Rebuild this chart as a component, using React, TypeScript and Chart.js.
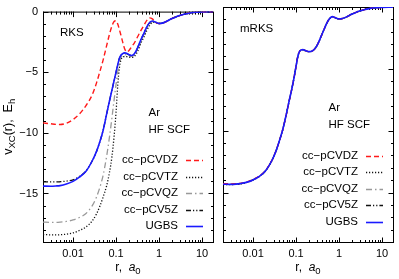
import React, { useEffect, useRef } from "react";
import { Chart, registerables } from "chart.js";

Chart.register(...registerables);

const FONT = "'Liberation Sans', Arial, Helvetica, sans-serif";
const W = 399;
const H = 279;

// ---------------- data ----------------
const rGrid = [0.002, 0.003, 0.004, 0.005, 0.007, 0.01, 0.014, 0.02, 0.028, 0.035, 0.042, 0.05, 0.06, 0.07, 0.08, 0.09, 0.1, 0.11, 0.12, 0.13, 0.145, 0.16, 0.18, 0.2, 0.23, 0.27, 0.32, 0.38, 0.45, 0.52, 0.6, 0.7, 0.8, 0.9, 1.0, 1.2, 1.5, 2, 2.5, 3, 4, 5, 7, 10, 14, 18];

const xTickValues = [0.01, 0.1, 1, 10];
const yTickValues = [-15, -10, -5, 0];
const xRange = [0.002, 18];
const yRange = [-19, 0];

const basisLabels = ["cc\u2212pCVDZ", "cc\u2212pCVTZ", "cc\u2212pCVQZ", "cc\u2212pCV5Z", "UGBS"];
const panelLabels = ["RKS", "mRKS"];
const systemLines = ["Ar", "HF SCF"];

// RKS panel
const rksDZ = [-9.18, -9.25, -9.3, -9.31, -9.2, -8.9, -8.45, -7.75, -6.85, -5.9, -4.95, -4.0, -2.85, -1.9, -1.2, -0.82, -0.76, -1.05, -1.5, -1.95, -2.6, -3.1, -3.33, -3.2, -2.9, -2.55, -2.05, -1.55, -1.1, -0.72, -0.52, -0.6, -0.82, -0.95, -0.98, -0.95, -0.8, -0.57, -0.43, -0.33, -0.2, -0.13, -0.06, -0.03, -0.012, -0.005];
const rksTZ = [-18.38, -18.41, -18.42, -18.4, -18.35, -18.25, -18.05, -17.76, -17.25, -16.7, -16.05, -15.3, -14.4, -13.3, -12.0, -10.3, -8.3, -6.0, -4.6, -4.0, -3.75, -3.7, -3.72, -3.76, -3.78, -3.68, -3.25, -2.6, -2.05, -1.55, -1.15, -0.9, -0.87, -0.94, -0.98, -0.95, -0.8, -0.57, -0.43, -0.33, -0.2, -0.13, -0.06, -0.03, -0.012, -0.005];
const rksQZ = [-17.36, -17.38, -17.38, -17.36, -17.3, -17.18, -16.98, -16.65, -16.0, -15.3, -14.5, -13.5, -12.0, -10.4, -8.8, -7.3, -6.0, -4.9, -4.2, -3.8, -3.6, -3.55, -3.58, -3.65, -3.7, -3.55, -3.05, -2.4, -1.85, -1.35, -1.0, -0.82, -0.85, -0.94, -0.98, -0.95, -0.8, -0.57, -0.43, -0.33, -0.2, -0.13, -0.06, -0.03, -0.012, -0.005];
const rks5Z = [-14.04, -14.05, -14.05, -14.03, -13.98, -13.88, -13.6, -13.15, -12.3, -11.55, -10.74, -9.8, -8.5, -7.4, -6.5, -5.7, -5.0, -4.35, -3.85, -3.6, -3.46, -3.41, -3.46, -3.56, -3.63, -3.46, -2.96, -2.31, -1.76, -1.26, -0.93, -0.78, -0.84, -0.93, -0.98, -0.95, -0.8, -0.57, -0.43, -0.33, -0.2, -0.13, -0.06, -0.03, -0.012, -0.005];
const rksUGBS = [-14.39, -14.4, -14.38, -14.35, -14.22, -14.0, -13.65, -13.17, -12.3, -11.55, -10.74, -9.8, -8.5, -7.4, -6.5, -5.7, -5.0, -4.35, -3.85, -3.6, -3.45, -3.4, -3.45, -3.55, -3.62, -3.45, -2.95, -2.3, -1.75, -1.25, -0.92, -0.78, -0.84, -0.93, -0.98, -0.95, -0.8, -0.57, -0.43, -0.33, -0.2, -0.13, -0.06, -0.03, -0.012, -0.005];

// mRKS panel
const mrksDZ = [-14.28, -14.3, -14.29, -14.26, -14.16, -13.95, -13.68, -13.18, -12.33, -11.54, -10.7, -9.8, -8.62, -7.52, -6.6, -5.7, -4.8, -4.0, -3.6, -3.48, -3.45, -3.5, -3.57, -3.61, -3.58, -3.4, -3.0, -2.4, -1.8, -1.3, -0.95, -0.78, -0.85, -0.93, -0.97, -0.93, -0.8, -0.57, -0.43, -0.33, -0.2, -0.13, -0.06, -0.03, -0.012, -0.005];
const mrksTZ = [-14.35, -14.36, -14.33, -14.3, -14.19, -13.98, -13.7, -13.2, -12.35, -11.56, -10.71, -9.81, -8.61, -7.51, -6.6, -5.7, -4.8, -4.0, -3.6, -3.48, -3.45, -3.5, -3.57, -3.61, -3.58, -3.4, -3.0, -2.4, -1.8, -1.3, -0.95, -0.78, -0.85, -0.93, -0.97, -0.93, -0.8, -0.57, -0.43, -0.33, -0.2, -0.13, -0.06, -0.03, -0.012, -0.005];
const mrksQZ = [-14.34, -14.35, -14.33, -14.29, -14.18, -13.98, -13.7, -13.2, -12.35, -11.55, -10.7, -9.8, -8.6, -7.5, -6.6, -5.7, -4.8, -4.0, -3.6, -3.48, -3.45, -3.5, -3.57, -3.61, -3.58, -3.4, -3.0, -2.4, -1.8, -1.3, -0.95, -0.78, -0.85, -0.93, -0.97, -0.93, -0.8, -0.57, -0.43, -0.33, -0.2, -0.13, -0.06, -0.03, -0.012, -0.005];
const mrks5Z = [-14.33, -14.34, -14.32, -14.28, -14.18, -13.98, -13.7, -13.2, -12.35, -11.55, -10.7, -9.8, -8.6, -7.5, -6.6, -5.7, -4.8, -4.0, -3.6, -3.48, -3.45, -3.5, -3.57, -3.61, -3.58, -3.4, -3.0, -2.4, -1.8, -1.3, -0.95, -0.78, -0.85, -0.93, -0.97, -0.93, -0.8, -0.57, -0.43, -0.33, -0.2, -0.13, -0.06, -0.03, -0.012, -0.005];
const mrksUGBS = [-14.33, -14.34, -14.32, -14.28, -14.18, -13.98, -13.7, -13.2, -12.35, -11.55, -10.7, -9.8, -8.6, -7.5, -6.6, -5.7, -4.8, -4.0, -3.6, -3.48, -3.45, -3.5, -3.57, -3.61, -3.58, -3.4, -3.0, -2.4, -1.8, -1.3, -0.95, -0.78, -0.85, -0.93, -0.97, -0.93, -0.8, -0.57, -0.43, -0.33, -0.2, -0.13, -0.06, -0.03, -0.012, -0.005];

// ---------------- styles ----------------
const lineStyles = [
  { color: "#ff1a1a", dash: [5, 3], width: 1.4 },
  { color: "#111111", dash: [1.2, 1.8], width: 1.3 },
  { color: "#999999", dash: [6, 3, 1.5, 3], width: 1.3 },
  { color: "#111111", dash: [5, 2, 1.2, 2, 1.2, 2], width: 1.3 },
  { color: "#1a1aff", dash: [] as number[], width: 1.6 },
];

type Seg = { t: string; size: number; italic?: boolean; dy?: number };

function drawRich(ctx: CanvasRenderingContext2D, segs: Seg[], x: number, y: number) {
  let total = 0;
  const widths = segs.map((s) => {
    ctx.font = `${s.italic ? "italic " : ""}${s.size}px ${FONT}`;
    const w = ctx.measureText(s.t).width;
    total += w;
    return w;
  });
  let cx = x - total / 2;
  ctx.textAlign = "left";
  ctx.textBaseline = "middle";
  segs.forEach((s, i) => {
    ctx.font = `${s.italic ? "italic " : ""}${s.size}px ${FONT}`;
    ctx.fillText(s.t, cx, y + (s.dy || 0));
    cx += widths[i];
  });
}

function makePanelPlugin(panelLabel: string, showYTitle: boolean) {
  return {
    id: "panelDeco",
    beforeDatasetsDraw(chart: any) {
      const { ctx, chartArea } = chart;
      const { left, right, top, bottom } = chartArea;
      const xs = chart.scales.x;
      const ys = chart.scales.y;
      ctx.save();
      ctx.strokeStyle = "#000";
      ctx.lineWidth = 1;
      ctx.setLineDash([]);
      ctx.strokeRect(left + 0.5, top + 0.5, right - left, bottom - top);
      ctx.beginPath();
      // y ticks, every unit, major at multiples of 5
      for (let v = Math.ceil(yRange[0]); v <= yRange[1]; v++) {
        const major = v % 5 === 0;
        const len = major ? 5.5 : 3;
        const py = Math.round(ys.getPixelForValue(v)) + 0.5;
        ctx.moveTo(left, py);
        ctx.lineTo(left + len, py);
        ctx.moveTo(right + 1, py);
        ctx.lineTo(right + 1 - len, py);
      }
      // x ticks, log decades with minor 2..9
      for (let k = -3; k <= 1; k++) {
        for (let m = 1; m <= 9; m++) {
          const v = m * Math.pow(10, k);
          if (v < xRange[0] * 0.999 || v > xRange[1] * 1.001) continue;
          const len = m === 1 ? 5.5 : 3;
          const px = Math.round(xs.getPixelForValue(v)) + 0.5;
          ctx.moveTo(px, bottom + 1);
          ctx.lineTo(px, bottom + 1 - len);
          ctx.moveTo(px, top);
          ctx.lineTo(px, top + len);
        }
      }
      ctx.stroke();
      ctx.restore();
    },
    afterDraw(chart: any) {
      const { ctx, chartArea } = chart;
      const { left, right, top, bottom } = chartArea;
      ctx.save();
      ctx.fillStyle = "#000";
      ctx.textBaseline = "middle";
      ctx.textAlign = "left";
      ctx.font = `11.5px ${FONT}`;
      ctx.fillText(panelLabel, left + 17, top + 21.5);
      ctx.fillText(systemLines[0], left + 105.5, top + 101.3);
      ctx.fillText(systemLines[1], left + 105.5, top + 118);

      // legend (built from the datasets)
      chart.data.datasets.forEach((ds: any, i: number) => {
        const y = top + 148.7 + i * 16.5;
        ctx.font = `11.5px ${FONT}`;
        ctx.textAlign = "right";
        ctx.fillStyle = "#000";
        ctx.fillText(ds.label, right - 35, y);
        ctx.beginPath();
        ctx.strokeStyle = ds.borderColor;
        ctx.lineWidth = ds.borderWidth;
        ctx.setLineDash(ds.borderDash || []);
        const yy = Math.round(y) + 0.5;
        ctx.moveTo(right - 27, yy);
        ctx.lineTo(right - 10, yy);
        ctx.stroke();
      });
      ctx.setLineDash([]);
      ctx.fillStyle = "#000";

      // x axis title
      drawRich(
        ctx,
        [
          { t: "r,  ", size: 12 },
          { t: "a", size: 12, italic: true },
          { t: "0", size: 9.5, dy: 3.5 },
        ],
        (left + right) / 2,
        268
      );

      if (showYTitle) {
        ctx.save();
        ctx.translate(9, (top + bottom) / 2);
        ctx.rotate(-Math.PI / 2);
        drawRich(
          ctx,
          [
            { t: "v", size: 12.5 },
            { t: "XC", size: 9.5, dy: 3.5 },
            { t: "(r),  E", size: 12.5 },
            { t: "h", size: 9.5, dy: 3.5 },
          ],
          0,
          0
        );
        ctx.restore();
      }
      ctx.restore();
    },
  };
}

function buildConfig(series: number[][], panelLabel: string, padLeft: number, padRight: number, showY: boolean) {
  const datasets = series.map((vals, i) => ({
    label: basisLabels[i],
    data: rGrid.map((r, j) => ({ x: r, y: vals[j] })),
    borderColor: lineStyles[i].color,
    borderDash: lineStyles[i].dash,
    borderWidth: lineStyles[i].width,
    pointRadius: 0,
    fill: false,
    cubicInterpolationMode: "monotone" as const,
    order: i === 4 ? 0 : i + 1,
  }));
  return {
    type: "line" as const,
    data: { datasets },
    options: {
      responsive: false,
      animation: false as const,
      events: [] as any[],
      layout: { padding: { left: padLeft, right: padRight, top: 7, bottom: 0 } },
      plugins: { legend: { display: false }, tooltip: { enabled: false }, title: { display: false } },
      scales: {
        x: {
          type: "logarithmic" as const,
          min: xRange[0],
          max: xRange[1],
          grid: { display: false, drawTicks: false },
          border: { display: false },
          afterBuildTicks: (s: any) => {
            s.ticks = xTickValues.map((v) => ({ value: v }));
          },
          afterFit: (s: any) => {
            s.height = 37;
          },
          ticks: {
            color: "#000",
            font: { family: FONT, size: 11 },
            padding: 5,
            maxRotation: 0,
            autoSkip: false,
            callback: (v: any) => String(v),
          },
        },
        y: {
          type: "linear" as const,
          display: showY,
          min: yRange[0],
          max: yRange[1],
          grid: { display: false, drawTicks: false },
          border: { display: false },
          afterBuildTicks: (s: any) => {
            s.ticks = yTickValues.map((v) => ({ value: v }));
          },
          afterFit: (s: any) => {
            s.width = showY ? 43 : 0;
          },
          ticks: {
            color: "#000",
            font: { family: FONT, size: 11 },
            padding: 5,
            callback: (v: any) => (v < 0 ? "\u2212" + Math.abs(v) : String(v)),
          },
        },
      },
    },
    plugins: [makePanelPlugin(panelLabel, showY)],
  };
}

export default function App() {
  const leftRef = useRef<HTMLCanvasElement>(null);
  const rightRef = useRef<HTMLCanvasElement>(null);

  useEffect(() => {
    const left = new Chart(
      leftRef.current as HTMLCanvasElement,
      buildConfig([rksDZ, rksTZ, rksQZ, rks5Z, rksUGBS], panelLabels[0], 0, W - 213, true) as any
    );
    const right = new Chart(
      rightRef.current as HTMLCanvasElement,
      buildConfig([mrksDZ, mrksTZ, mrksQZ, mrks5Z, mrksUGBS], panelLabels[1], 223, W - 393, false) as any
    );
    return () => {
      left.destroy();
      right.destroy();
    };
  }, []);

  const cs: React.CSSProperties = { position: "absolute", left: 0, top: 0, width: W, height: H };
  return (
    <div style={{ position: "fixed", left: 0, top: 0, width: W, height: H, background: "#fff" }}>
      <canvas ref={leftRef} width={W} height={H} style={cs} />
      <canvas ref={rightRef} width={W} height={H} style={cs} />
    </div>
  );
}
